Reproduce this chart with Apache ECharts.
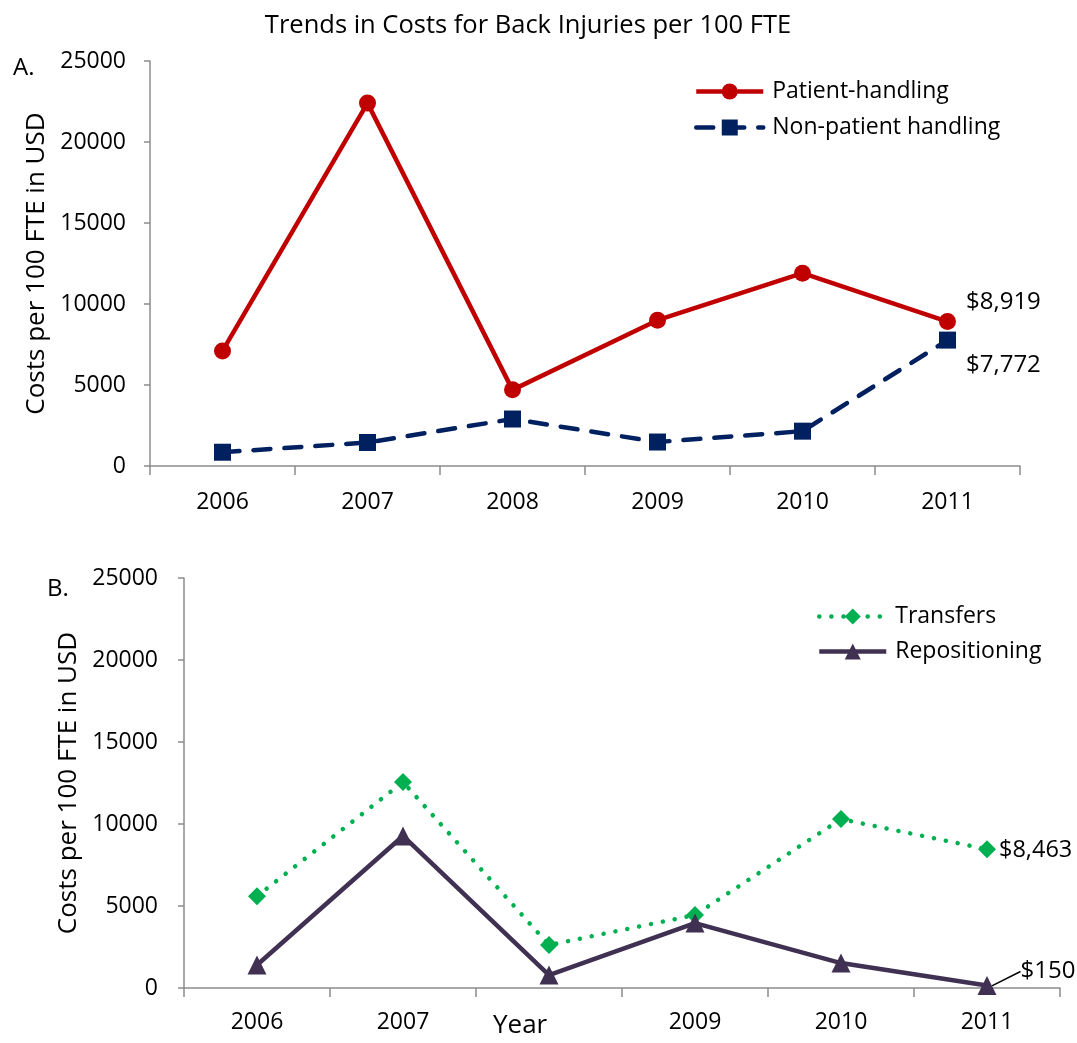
<!DOCTYPE html>
<html>
<head>
<meta charset="utf-8">
<script src="https://cdn.jsdelivr.net/npm/echarts@6/dist/echarts.min.js"></script>
<style>html,body{margin:0;padding:0;background:#fff;}#c{width:1077px;height:1043px;}</style>
</head>
<body>
<div id="c"></div>
<script>
const years = ['2006', '2007', '2008', '2009', '2010', '2011'];
const patientHandling = [7100, 22400, 4700, 9000, 11900, 8919];
const nonPatientHandling = [850, 1450, 2900, 1480, 2150, 7772];
const transfers = [5600, 12560, 2620, 4450, 10300, 8463];
const repositioning = [1400, 9270, 790, 3960, 1520, 150];
const yTicks = [0, 5000, 10000, 15000, 20000, 25000];

const FONT = '"Open Sans"';
const FS = 23;
const LFS = 24;
const axisGray = '#8c8c8c';
const fmt = v => '$' + v.toLocaleString('en-US');

function lastLabel(arr, opts) {
  return arr.map((v, i) => i === arr.length - 1 ? Object.assign({ value: v }, opts) : v);
}

const chart = echarts.init(document.getElementById('c'));

function yAxis(gridIndex) {
  return {
    type: 'value', gridIndex, min: yTicks[0], max: yTicks[yTicks.length - 1], interval: 5000,
    name: 'Costs per 100 FTE in USD', nameLocation: 'middle', nameGap: gridIndex === 0 ? 100 : 102,
    nameTextStyle: { fontFamily: FONT, fontSize: 26, color: '#000' },
    axisLine: { show: true, lineStyle: { color: axisGray, width: 1.5 } },
    axisTick: { show: true, length: 6, lineStyle: { color: axisGray, width: 1.5 } },
    axisLabel: { fontFamily: FONT, fontSize: FS, color: '#000', margin: gridIndex === 0 ? 24 : 26, formatter: v => String(v) },
    splitLine: { show: false }
  };
}
function xAxis(gridIndex, hideIdx) {
  return {
    type: 'category', gridIndex, data: years, boundaryGap: true,
    axisLine: { show: true, lineStyle: { color: axisGray, width: 1.5 } },
    axisTick: { show: true, interval: 0, length: 9, lineStyle: { color: axisGray, width: 1.5 } },
    axisLabel: {
      fontFamily: FONT, fontSize: FS, color: '#000', margin: gridIndex === 0 ? 25 : 23, interval: 0,
      formatter: (v, i) => (i === hideIdx ? '' : v)
    }
  };
}

const legendText = { fontFamily: FONT, fontSize: FS, color: '#000', padding: [0, 0, 0, 4] };

chart.setOption({
  animation: false,
  title: {
    text: 'Trends in Costs for Back Injuries per 100 FTE', left: 523, top: 8, textAlign: 'center',
    textStyle: { fontFamily: FONT, fontSize: 25.5, fontWeight: 'normal', color: '#000' }
  },
  graphic: [
    { type: 'text', left: 13, top: 56, style: { text: 'A.', font: '24px ' + FONT, fill: '#000' } },
    { type: 'text', left: 47, top: 577, style: { text: 'B.', font: '24px ' + FONT, fill: '#000' } },
    { type: 'text', left: 493, top: 1013, style: { text: 'Year', font: '26px ' + FONT, fill: '#000' } }
  ],
  grid: [
    { left: 150, top: 61, width: 870, height: 405 },
    { left: 184, top: 578, width: 876, height: 410 }
  ],
  legend: [
    {
      left: 689, top: 75, orient: 'vertical', itemGap: 13, itemWidth: 67, itemHeight: 20,
      textStyle: legendText,
      lineStyle: { width: 4.5 },
      data: ['Patient-handling', 'Non-patient handling']
    },
    {
      left: 812, top: 600, orient: 'vertical', itemGap: 12, itemWidth: 67, itemHeight: 20,
      textStyle: legendText,
      lineStyle: { width: 4.5 },
      data: ['Transfers', 'Repositioning']
    }
  ],
  xAxis: [xAxis(0, -1), xAxis(1, 2)],
  yAxis: [yAxis(0), yAxis(1)],
  series: [
    {
      name: 'Patient-handling', type: 'line', xAxisIndex: 0, yAxisIndex: 0,
      symbol: 'circle', symbolSize: 17, color: '#C00000',
      lineStyle: { width: 4.5, color: '#C00000' }, itemStyle: { color: '#C00000' },
      data: lastLabel(patientHandling, {
        label: { show: true, position: 'right', distance: 4, offset: [6, -19], formatter: p => fmt(p.value),
          fontFamily: FONT, fontSize: LFS, color: '#000' }
      })
    },
    {
      name: 'Non-patient handling', type: 'line', xAxisIndex: 0, yAxisIndex: 0,
      symbol: 'rect', symbolSize: 17, color: '#002060',
      lineStyle: { width: 4.5, color: '#002060', type: [17, 14], cap: 'round' }, itemStyle: { color: '#002060' },
      data: lastLabel(nonPatientHandling, {
        label: { show: true, position: 'right', distance: 4, offset: [6, 25], formatter: p => fmt(p.value),
          fontFamily: FONT, fontSize: LFS, color: '#000' }
      })
    },
    {
      name: 'Transfers', type: 'line', xAxisIndex: 1, yAxisIndex: 1,
      symbol: 'diamond', symbolSize: 18, color: '#00B050',
      lineStyle: { width: 4.5, color: '#00B050', type: [0.1, 12], cap: 'round' }, itemStyle: { color: '#00B050' },
      data: lastLabel(transfers, {
        label: { show: true, position: 'right', distance: 6, offset: [-3, 1], formatter: p => fmt(p.value),
          fontFamily: FONT, fontSize: 23.5, color: '#000' }
      })
    },
    {
      name: 'Repositioning', type: 'line', xAxisIndex: 1, yAxisIndex: 1,
      symbol: 'triangle', symbolSize: 19, color: '#403152',
      lineStyle: { width: 4.5, color: '#403152' }, itemStyle: { color: '#403152' },
      labelLine: { show: true, lineStyle: { color: '#000', width: 1.5 } },
      labelLayout: { dx: 20, dy: -14 },
      data: lastLabel(repositioning, {
        label: { show: true, position: 'right', distance: 4, formatter: p => fmt(p.value),
          fontFamily: FONT, fontSize: LFS, color: '#000' }
      })
    }
  ]
});
</script>
</body>
</html>
